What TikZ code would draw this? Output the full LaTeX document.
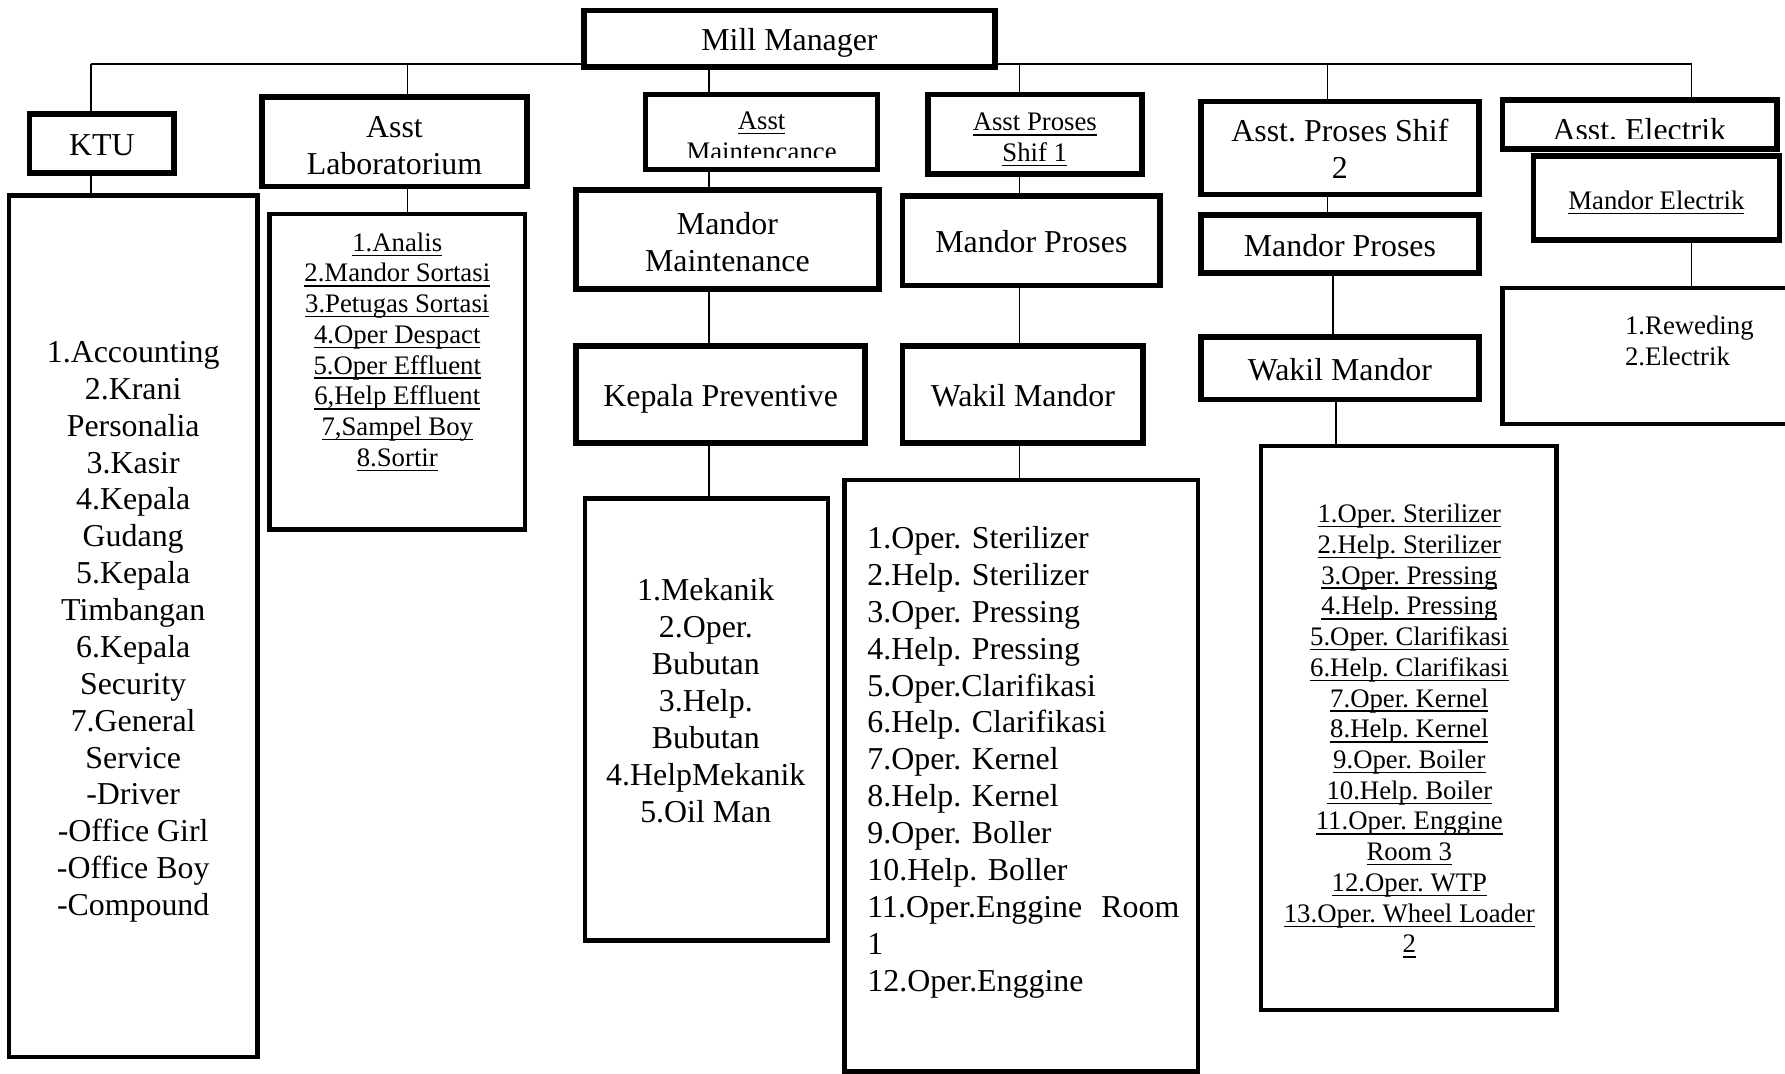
\documentclass[tikz,border=0pt]{standalone}
\usepackage{fontspec}
\setmainfont{Liberation Serif}
\usetikzlibrary{backgrounds}
\frenchspacing
\newsavebox\ulbox
\newcommand\undl[1]{\leavevmode\sbox\ulbox{#1}\rlap{\rule[-4.2pt]{\wd\ulbox}{1.2pt}}\usebox\ulbox}
\newcommand\lift[1]{\rule{0pt}{#1}}

\begin{document}
\begin{tikzpicture}[x=1pt,y=-1pt,
  box/.style={draw,line width=4.8pt,fill=white,inner sep=0pt},
  listbox/.style={draw,line width=3.8pt,fill=white,inner sep=0pt},
  link/.style={line width=1.4pt},
  big/.style={font=\fontsize{28}{32.4}\selectfont,align=center},
  small/.style={font=\fontsize{23.5}{27}\selectfont,align=center},
  oneline/.style={text height=27pt,text depth=6pt}]
\useasboundingbox (0,0) rectangle (1568,943);
% top and assistants
\node[box,big,oneline,minimum width=361pt,minimum height=50pt] (mm) at (693.5,34){Mill Manager};
\node[box,big,oneline,minimum width=127pt,minimum height=52pt] (ktu) at (89.5,126){KTU};
\node[box,big,minimum width=233pt,minimum height=79pt] (lab) at (346.5,124.5){\lift{25pt}Asst\\Laboratorium};
\node[box,minimum width=204pt,minimum height=66pt] (amt) at (669,116){};
\node[box,small,minimum width=188pt,minimum height=70pt] (ap1) at (909,118){\lift{25pt}\undl{Asst Proses}\\\undl{Shif 1}};
\node[box,big,minimum width=244pt,minimum height=82pt] (ap2) at (1177,130){\lift{21pt}Asst. Proses Shif\\2};
\node[box,minimum width=241pt,minimum height=43pt] (ael) at (1440.5,109.5){};
\node[box,small,text height=24pt,text depth=4.5pt,minimum width=216pt,minimum height=74pt] (mel) at (1455,174){\undl{Mandor Electrik}};
\begin{scope}
\clip (567,83) rectangle (771,138);
\node[small] (amtt) at (669,119.5){\undl{Asst}\\Maintencance};
\end{scope}
\begin{scope}
\clip (1320,88) rectangle (1561,121.5);
\node[big] (aelt) at (1440,114){Asst. Electrik};
\end{scope}
% mandors
\node[box,big,minimum width=266pt,minimum height=87pt] (mmt) at (639,210.5){\lift{24pt}Mandor\\Maintenance};
\node[box,big,oneline,minimum width=254pt,minimum height=85pt] (kpv) at (633,346.5){Kepala Preventive};
\node[box,big,oneline,minimum width=226pt,minimum height=79pt] (mp1) at (906,211.5){Mandor Proses};
\node[box,big,oneline,minimum width=211pt,minimum height=85pt] (wm1) at (898.5,346.5){Wakil Mandor};
\node[box,big,oneline,minimum width=244pt,minimum height=51pt] (mp2) at (1177,214.5){Mandor Proses};
\node[box,big,oneline,minimum width=244pt,minimum height=55pt] (wm2) at (1177,323.5){Wakil Mandor};
% staff lists
\node[listbox,minimum width=218.5pt,minimum height=756.5pt] (ktul) at (117,550){};
\node[big] (ktut) at (117,555){1.Accounting\\2.Krani\\Personalia\\3.Kasir\\4.Kepala\\Gudang\\5.Kepala\\Timbangan\\6.Kepala\\Security\\7.General\\Service\\-Driver\\-Office Girl\\-Office Boy\\-Compound};
\node[listbox,minimum width=224.5pt,minimum height=277.5pt] (labl) at (349,326.5){};
\node[small] (labt) at (349,309){\undl{1.Analis}\\\undl{2.Mandor Sortasi}\\\undl{3.Petugas Sortasi}\\\undl{4.Oper Despact}\\\undl{5.Oper Effluent}\\\undl{6,Help Effluent}\\\undl{7,Sampel Boy}\\\undl{8.Sortir}};
\node[listbox,minimum width=213.5pt,minimum height=388.5pt] (mtl) at (620.5,632){};
\node[big] (mtt) at (620,615.5){1.Mekanik\\2.Oper.\\Bubutan\\3.Help.\\Bubutan\\4.HelpMekanik\\5.Oil Man};
\node[listbox,minimum width=310.5pt,minimum height=519.5pt] (p1l) at (897,681.5){};
\node[big,align=left,text width=274pt] (p1t) at (899,669.5){1.Oper. Sterilizer\\2.Help. Sterilizer\\3.Oper. Pressing\\4.Help. Pressing\\5.Oper.Clarifikasi\\6.Help. Clarifikasi\\7.Oper. Kernel\\8.Help. Kernel\\9.Oper. Boller\\10.Help. Boller\\11.Oper.Enggine\hfill Room\\1\\12.Oper.Enggine};
\node[listbox,minimum width=259.5pt,minimum height=495.5pt] (p2l) at (1237.5,639.5){};
\node[small] (p2t) at (1238,642){\undl{1.Oper. Sterilizer}\\\undl{2.Help. Sterilizer}\\\undl{3.Oper. Pressing}\\\undl{4.Help. Pressing}\\\undl{5.Oper. Clarifikasi}\\\undl{6.Help. Clarifikasi}\\\undl{7.Oper. Kernel}\\\undl{8.Help. Kernel}\\\undl{9.Oper. Boiler}\\\undl{10.Help. Boiler}\\\undl{11.Oper. Enggine}\\\undl{Room 3}\\\undl{12.Oper. WTP}\\\undl{13.Oper. Wheel Loader}\\\undl{2}};
\node[listbox,minimum width=253.5pt,minimum height=119.5pt] (ell) at (1446.5,312.5){};
\node[small,align=left,anchor=west] (elt) at (1424,299.5){1.Reweding\\2.Electrik};
% connectors
\begin{scope}[on background layer]
\coordinate (busl) at (79.7,56);
\coordinate (busr) at (1486,56);
\draw[link] (busl) -- (busr);
\foreach \n/\x in {ktu/79.7,lab/358,ap1/895.5,ap2/1166,ael/1486}
  \draw[link] (\x,0 |- busl) -- (\x,0 |- \n.north);
\foreach \a/\b/\x in {ktu/ktul/79.7,lab/labl/358,mm/amt/623,amt/mmt/623,mmt/kpv/623,kpv/mtl/623,ap1/mp1/895.5,mp1/wm1/895.5,wm1/p1l/895.5,ap2/mp2/1166,mp2/wm2/1171,wm2/p2l/1173.5,mel/ell/1486}
  \draw[link] (\x,0 |- \a.south) -- (\x,0 |- \b.north);
\end{scope}
\end{tikzpicture}
\end{document}
